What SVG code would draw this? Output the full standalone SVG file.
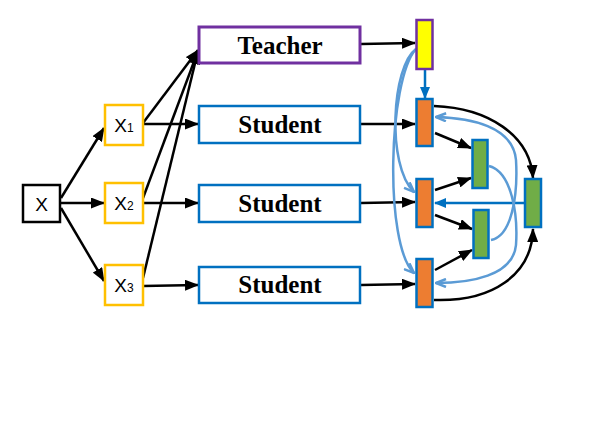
<svg xmlns="http://www.w3.org/2000/svg" width="598" height="426" viewBox="0 0 598 426">
<style>
.bg{fill:#fff}
.blk{fill:#fff;stroke:#000;stroke-width:2.5}
.gold{fill:#fff;stroke:#FFC000;stroke-width:2.5}
.pur{fill:#fff;stroke:#7030A0;stroke-width:3}
.stu{fill:#fff;stroke:#0070C0;stroke-width:2.5}
.yel{fill:#FFFF00;stroke:#7030A0;stroke-width:2.5}
.org{fill:#ED7D31;stroke:#0070C0;stroke-width:2.5}
.grn{fill:#70AD47;stroke:#0070C0;stroke-width:2.5}
.lab{font-family:"Liberation Serif","Times New Roman",serif;font-weight:bold;font-size:25px;fill:#000;text-anchor:middle}
.xl{font-family:"Liberation Sans",Arial,sans-serif;font-size:19px;fill:#000;text-anchor:middle}
.sub{font-size:12px}
.a{fill:none;stroke:#000;stroke-width:2.5;marker-end:url(#ab)}
.b{fill:none;stroke:#0070C0;stroke-width:2.5;marker-end:url(#bb)}
.lb{fill:none;stroke:#5B9BD5;stroke-width:2.5;marker-end:url(#lbb)}
</style>
<defs>
<marker id="ab" viewBox="0 0 14 11" refX="13" refY="5.5" markerWidth="14" markerHeight="11" markerUnits="userSpaceOnUse" orient="auto"><path d="M0,0 L14,5.5 L0,11 z" fill="#000"/></marker>
<marker id="bb" viewBox="0 0 12 10" refX="11" refY="5" markerWidth="12" markerHeight="10" markerUnits="userSpaceOnUse" orient="auto"><path d="M0,0 L12,5 L0,10 z" fill="#0070C0"/></marker>
<marker id="lbb" viewBox="0 0 12 10" refX="11" refY="5" markerWidth="12" markerHeight="10" markerUnits="userSpaceOnUse" orient="auto"><path d="M1,1 L11,5 L1,9" fill="none" stroke="#5B9BD5" stroke-width="2.5" stroke-linejoin="miter"/></marker>
</defs>
<rect class="bg" x="0" y="0" width="598" height="426"/>
<g id="connectors">
<line class="a" x1="61" y1="198" x2="104" y2="128"/>
<line class="a" x1="61" y1="203" x2="104" y2="203"/>
<line class="a" x1="61" y1="208" x2="104" y2="281"/>
<line class="a" x1="143" y1="124" x2="198" y2="124"/>
<line class="a" x1="143" y1="203" x2="198" y2="203"/>
<line class="a" x1="143" y1="286" x2="198" y2="285"/>
<line class="a" x1="143" y1="123" x2="198" y2="50"/>
<line class="a" x1="143" y1="198" x2="198" y2="51"/>
<line class="a" x1="143" y1="278" x2="198" y2="51"/>
<line class="a" x1="361" y1="44" x2="415" y2="43"/>
<line class="a" x1="361" y1="124" x2="415" y2="124"/>
<line class="a" x1="361" y1="203" x2="415" y2="202"/>
<line class="a" x1="361" y1="285" x2="415" y2="284"/>
<line class="b" x1="425" y1="70" x2="425" y2="98"/>
<path class="lb" d="M416,49 C392,66 386,165 414,192"/>
<path class="lb" d="M416,49 C388,80 384,245 414,273"/>
<line class="a" x1="435" y1="133" x2="471" y2="148"/>
<line class="a" x1="435" y1="190" x2="471" y2="178"/>
<line class="a" x1="435" y1="215" x2="472" y2="229"/>
<line class="a" x1="435" y1="270" x2="472" y2="250"/>
<path class="a" d="M434,106 C488,108 530,135 533,178"/>
<path class="a" d="M434,300 C492,302 532,275 533,229"/>
<line class="b" x1="524" y1="203" x2="435" y2="203"/>
<path class="lb" d="M489,166 C512,172 518,215 516,245 C513,276 470,283 436,283"/>
<path class="lb" d="M491,240 C512,236 518,195 516,160 C513,126 470,118 436,117"/>
</g>
<g id="X"><rect class="blk" x="23" y="185" width="37" height="37"/><text class="xl" x="41.5" y="210.5">X</text></g>
<g id="X1"><rect class="gold" x="105" y="105" width="38" height="40"/><text class="xl" x="124" y="132">X<tspan class="sub">1</tspan></text></g>
<g id="X2"><rect class="gold" x="105" y="183" width="38" height="40"/><text class="xl" x="124" y="210">X<tspan class="sub">2</tspan></text></g>
<g id="X3"><rect class="gold" x="105" y="265" width="38" height="40"/><text class="xl" x="124" y="292">X<tspan class="sub">3</tspan></text></g>
<g id="teacher"><rect class="pur" x="199" y="27" width="161" height="36"/><text class="lab" x="280" y="54">Teacher</text></g>
<g id="student1"><rect class="stu" x="199" y="106" width="161" height="37"/><text class="lab" x="280" y="132.5">Student</text></g>
<g id="student2"><rect class="stu" x="199" y="185" width="161" height="37"/><text class="lab" x="280" y="211.5">Student</text></g>
<g id="student3"><rect class="stu" x="199" y="267" width="161" height="36"/><text class="lab" x="280" y="293">Student</text></g>
<g id="teacher-out"><rect class="yel" x="416.5" y="20" width="16" height="49"/></g>
<g id="student-out1"><rect class="org" x="416.5" y="99" width="16" height="47"/></g>
<g id="student-out2"><rect class="org" x="416.5" y="179" width="16" height="48"/></g>
<g id="student-out3"><rect class="org" x="416.5" y="259" width="16" height="48"/></g>
<g id="agg1"><rect class="grn" x="472.5" y="140" width="15" height="48"/></g>
<g id="agg2"><rect class="grn" x="473.5" y="210" width="15" height="48"/></g>
<g id="agg3"><rect class="grn" x="525" y="179" width="16" height="48"/></g>
</svg>
